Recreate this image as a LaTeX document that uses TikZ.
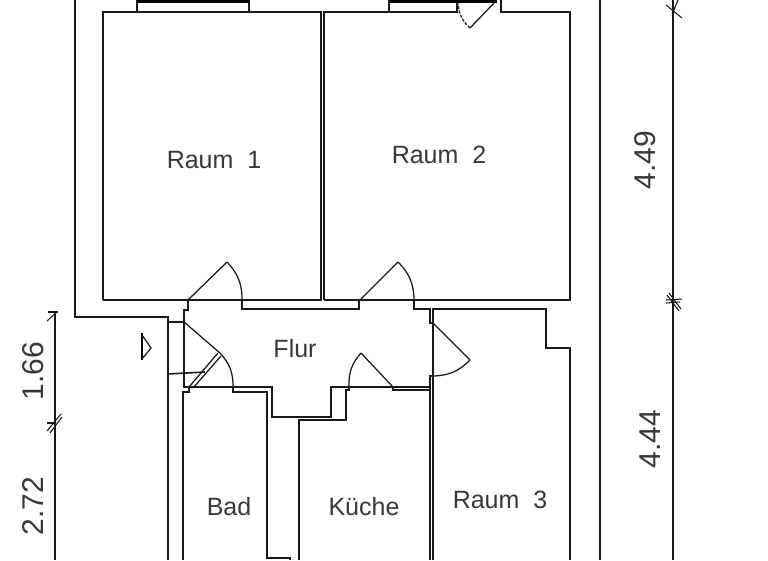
\documentclass[tikz,border=0pt]{standalone}
\usepackage{fontspec}
\setmainfont{Liberation Sans}
\begin{document}
\begin{tikzpicture}[x=1pt,y=-1pt,
  wall/.style={draw=black!90,line width=1.6pt,line join=miter},
  thin/.style={draw=black!90,line width=1.05pt},
  swing/.style={draw=black!90,line width=1.25pt},
  room/.style={inner sep=0pt,text=black!78,font=\fontsize{25}{25}\selectfont},
  dimtext/.style={inner sep=0pt,text=black!78,rotate=90,font=\fontsize{30}{30}\selectfont}]
\useasboundingbox[fill=white] (0,0) rectangle (768,560);
\begin{scope}
\clip (0,0) rectangle (768,560);
% outer walls
\draw[wall] (75,0) -- (75,317) -- (168,317) -- (168,560);
\draw[wall] (600,0) -- (600,560);
% room 1
\draw[wall] (103,300) -- (103,12) -- (137,12) -- (137,0);
\draw[wall] (137,12) -- (249,12) -- (249,0);
\draw[wall] (249,12) -- (321,12) -- (321,300) -- (103,300);
\draw[line width=3pt] (137,1) -- (249,1);
% room 2
\draw[wall] (324,300) -- (324,12) -- (389,12) -- (389,0);
\draw[wall] (389,12) -- (457,12) -- (457,0);
\draw[wall] (501,0) -- (501,12) -- (570,12) -- (570,300) -- (324,300);
\draw[line width=3pt] (389,1) -- (497,1);
% top door
\draw[swing] (496,1) -- (470,28);
\draw[swing,dash pattern=on 3pt off 1.5pt] (470,28) to[bend left=22] (458,3);
% room 1 door
\draw[swing] (188,300) -- (227,262);
\draw[swing] (227,262) to[bend left=22] (242,300);
% room 2 door
\draw[swing] (360,300) -- (398,262);
\draw[swing] (398,262) to[bend left=22] (414,300);
% corridor
\draw[wall] (188,300) -- (188,310) -- (184,310) -- (184,387) -- (189,387) -- (189,392) -- (183,392) -- (183,560);
\draw[wall] (242,300) -- (242,309) -- (359,309) -- (359,300);
\draw[wall] (414,300) -- (414,309) -- (430,309) -- (430,323) -- (433,323);
\draw[wall] (189,387) -- (272,387) -- (272,417) -- (331,417) -- (331,387) -- (430,387);
\draw[wall] (233,387) -- (233,392) -- (267,392) -- (267,558) -- (290,558) -- (290,560);
% kitchen
\draw[wall] (299,560) -- (299,420) -- (346,420) -- (346,390) -- (349,390) -- (349,387);
\draw[wall] (393,387) -- (393,390) -- (430,390);
\draw[wall] (433,376) -- (430,376) -- (430,560);
% room 3
\draw[wall] (433,560) -- (433,309) -- (546,309) -- (546,348) -- (570,348) -- (570,560);
% room 3 door
\draw[swing] (433,323) -- (470,360);
\draw[swing] (470,360) to[bend left=22] (433,376);
% kitchen door
\draw[swing] (393,387) -- (361,353);
\draw[swing] (361,353) to[bend right=22] (349,387);
% corridor left door and bath door
\draw[wall] (168,322) -- (184,322);
\draw[wall] (168,374) -- (205,372);
\draw[swing] (184,322) -- (220,353);
\draw[swing] (220,353) to[bend left=22] (233,387);
\draw[swing] (189,387) -- (218,353);
\draw[swing] (193,388) -- (221,356);
% small entrance mark
\draw[line width=1.8pt] (142,333) -- (142,360);
\draw[swing] (142,335) -- (151,348) -- (142,359);
% dimension right
\draw[wall] (673,0) -- (673,560);
\draw[thin] (666,5) -- (682,18);
\draw[thin] (678,0) -- (673,12);
\draw[thin] (667,295) -- (679,311);
\draw[thin] (669,293) -- (681,309);
\draw[thin] (666,300) -- (682,299);
\draw[thin] (666,303) -- (680,302);
% dimension left
\draw[wall] (55,312) -- (55,560);
\draw[thin] (48,312) -- (58,312);
\draw[thin] (47,321) -- (57,312);
\draw[thin] (47,431) -- (61,414);
\draw[thin] (50,433) -- (62,417);
\draw[thin] (47,423) -- (56,423);
\end{scope}
% labels
\node[room] (r1) at (214,160) {Raum\ \ 1};
\node[room] (r2) at (439,155) {Raum\ \ 2};
\node[room] (r3) at (500,500) {Raum\ \ 3};
\node[room] (flur) at (295,349) {Flur};
\node[room] (bad) at (229,507) {Bad};
\node[room] (kue) at (364,507) {Küche};
\node[dimtext] (d1) at (33,371) {1.66};
\node[dimtext] (d2) at (33,506) {2.72};
\node[dimtext] (d3) at (645,160) {4.49};
\node[dimtext] (d4) at (650,439) {4.44};
\end{tikzpicture}
\end{document}
